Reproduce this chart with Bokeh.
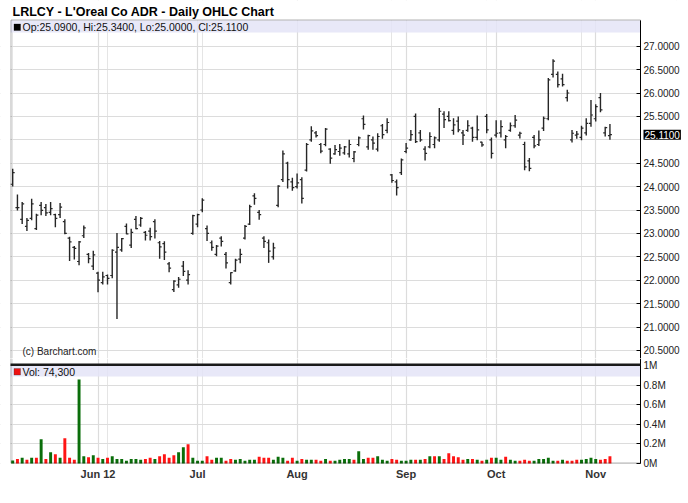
import pandas as pd
from bokeh.plotting import figure
from bokeh.layouts import column
from bokeh.models import (Range1d, FixedTicker, Grid, Label, BoxAnnotation,
                          LinearAxis, NumeralTickFormatter, ColumnDataSource)
from bokeh.embed import file_html
from bokeh.resources import INLINE

# ---------------- data ----------------
title_text = "LRLCY - L'Oreal Co ADR - Daily OHLC Chart"

opens = [24.05, 23.55, 23.30, 23.15, 23.32, 23.10, 23.60, 23.55, 23.45, 23.40,
         23.40, 23.25, 22.90, 22.70, 22.40, 22.95, 22.55, 22.30, 22.15, 21.95,
         22.10, 22.10, 22.60, 22.65, 23.15, 22.75, 23.30, 23.18, 23.02, 23.05,
         23.25, 22.80, 22.78, 22.35, 21.80, 21.90, 22.30, 22.00, 23.00, 23.20,
         23.50, 23.10, 22.80, 22.55, 22.90, 22.55, 21.95, 22.20, 22.45, 22.90,
         23.20, 23.80, 23.45, 22.90, 22.80, 22.50, 23.60, 24.15, 24.50, 24.10,
         24.00, 24.15, 24.35, 25.00, 25.15, 24.90, 24.90, 24.80, 24.70, 24.75,
         24.72, 24.70, 24.60, 24.90, 25.45, 24.85, 25.00, 24.80, 25.30, 25.20,
         24.25, 24.10, 24.30, 24.75, 25.00, 25.50, 25.15, 24.80, 24.85, 24.90,
         25.00, 25.55, 25.50, 25.20, 25.40, 25.15, 25.20, 25.25, 25.05, 24.95,
         25.50, 25.00, 25.10, 25.15, 25.00, 25.20, 25.30, 25.10, 24.90, 24.55,
         25.05, 24.90, 25.25, 25.45, 26.40, 26.40, 26.30, 25.90, 25.00, 25.10,
         25.05, 25.15, 25.35, 25.45, 25.90, 25.15, 25.09]
highs = [24.38, 23.83, 23.67, 23.33, 23.74, 23.42, 23.67, 23.63, 23.67, 23.42,
         23.65, 23.30, 22.93, 22.73, 22.84, 23.17, 22.58, 22.63, 22.18, 22.18,
         22.12, 22.66, 23.01, 22.90, 23.21, 23.10, 23.37, 23.35, 23.05, 23.12,
         23.30, 22.84, 22.83, 22.39, 22.00, 22.07, 22.41, 22.21, 23.40, 23.42,
         23.75, 23.17, 22.85, 22.75, 22.94, 22.60, 22.17, 22.46, 22.67, 23.18,
         23.61, 23.86, 23.50, 22.94, 22.87, 22.80, 24.03, 24.77, 24.53, 24.19,
         24.28, 24.20, 24.93, 25.29, 25.19, 24.93, 25.25, 24.82, 24.89, 24.91,
         24.87, 25.00, 24.76, 25.07, 25.52, 25.11, 25.07, 25.14, 25.34, 25.46,
         24.27, 24.15, 24.60, 24.93, 25.21, 25.56, 25.21, 24.86, 25.16, 25.07,
         25.68, 25.61, 25.61, 25.46, 25.50, 25.21, 25.42, 25.28, 25.52, 24.96,
         25.55, 25.05, 25.42, 25.42, 25.10, 25.37, 25.53, 25.17, 24.96, 24.61,
         25.10, 25.20, 25.50, 26.32, 26.72, 26.46, 26.41, 26.07, 25.21, 25.19,
         25.30, 25.46, 25.85, 25.76, 26.00, 25.28, 25.34]
lows = [24.00, 23.49, 23.20, 23.05, 23.28, 23.07, 23.39, 23.37, 23.39, 23.13,
        23.33, 22.98, 22.41, 22.44, 22.32, 22.90, 22.36, 22.22, 21.74, 21.91,
        21.91, 22.04, 21.17, 22.61, 22.98, 22.69, 23.09, 23.14, 22.85, 22.85,
        22.89, 22.46, 22.43, 22.17, 21.75, 21.84, 22.09, 21.91, 22.97, 23.13,
        23.45, 22.84, 22.63, 22.51, 22.72, 22.25, 21.91, 22.18, 22.36, 22.87,
        23.18, 23.61, 23.29, 22.69, 22.37, 22.44, 23.56, 24.10, 23.96, 23.91,
        23.96, 23.64, 24.32, 24.96, 25.05, 24.71, 24.86, 24.49, 24.68, 24.66,
        24.68, 24.62, 24.52, 24.86, 25.22, 24.79, 24.79, 24.75, 25.02, 25.14,
        24.08, 23.81, 24.25, 24.71, 24.98, 24.93, 24.96, 24.56, 24.82, 24.82,
        24.96, 25.25, 25.39, 25.11, 25.16, 24.89, 25.17, 24.96, 24.99, 24.85,
        25.14, 24.60, 25.05, 25.05, 24.82, 25.17, 25.26, 25.03, 24.35, 24.33,
        24.82, 24.87, 25.19, 25.42, 26.33, 26.12, 26.14, 25.82, 24.94, 25.02,
        24.99, 25.09, 25.28, 25.39, 25.59, 25.07, 25.00]
closes = [24.30, 23.55, 23.63, 23.28, 23.63, 23.39, 23.49, 23.44, 23.53, 23.32,
          23.56, 23.00, 22.82, 22.68, 22.82, 23.12, 22.46, 22.54, 22.00, 22.07,
          22.04, 22.64, 22.70, 22.89, 22.99, 23.02, 23.10, 23.32, 22.96, 22.93,
          23.05, 22.71, 22.60, 22.26, 21.98, 22.02, 22.19, 22.12, 23.38, 23.40,
          23.71, 23.00, 22.70, 22.73, 22.83, 22.37, 22.16, 22.43, 22.55, 23.15,
          23.57, 23.75, 23.40, 22.83, 22.62, 22.69, 24.01, 24.70, 24.15, 23.98,
          24.08, 23.75, 24.90, 25.19, 25.09, 24.76, 25.23, 24.61, 24.79, 24.82,
          24.85, 24.90, 24.74, 25.04, 25.33, 25.09, 24.93, 25.07, 25.11, 25.37,
          24.13, 23.98, 24.57, 24.82, 25.11, 24.96, 25.00, 24.71, 25.07, 25.04,
          25.61, 25.43, 25.41, 25.32, 25.21, 25.10, 25.30, 25.05, 25.21, 24.89,
          25.21, 24.71, 25.14, 25.28, 25.07, 25.30, 25.42, 25.14, 24.42, 24.39,
          24.87, 25.00, 25.46, 26.28, 26.68, 26.18, 26.18, 26.00, 25.14, 25.12,
          25.25, 25.35, 25.53, 25.71, 25.64, 25.26, 25.11]
# volume in millions of shares
volumes = [0.030, 0.047, 0.058, 0.037, 0.058, 0.058, 0.247, 0.047, 0.115, 0.095,
           0.058, 0.258, 0.058, 0.037, 0.858, 0.075, 0.064, 0.085, 0.058, 0.047,
           0.058, 0.075, 0.047, 0.047, 0.027, 0.047, 0.047, 0.037, 0.047, 0.058,
           0.047, 0.075, 0.095, 0.058, 0.085, 0.115, 0.166, 0.197, 0.058, 0.027,
           0.027, 0.075, 0.037, 0.058, 0.058, 0.027, 0.047, 0.037, 0.047, 0.027,
           0.037, 0.037, 0.068, 0.058, 0.058, 0.037, 0.068, 0.058, 0.027, 0.058,
           0.027, 0.047, 0.037, 0.037, 0.037, 0.027, 0.047, 0.027, 0.027, 0.037,
           0.047, 0.047, 0.037, 0.125, 0.047, 0.058, 0.058, 0.075, 0.037, 0.027,
           0.047, 0.037, 0.027, 0.027, 0.037, 0.037, 0.037, 0.047, 0.075, 0.075,
           0.075, 0.047, 0.105, 0.075, 0.064, 0.037, 0.047, 0.047, 0.037, 0.027,
           0.037, 0.058, 0.058, 0.037, 0.068, 0.037, 0.027, 0.027, 0.037, 0.027,
           0.027, 0.047, 0.047, 0.058, 0.027, 0.027, 0.037, 0.027, 0.027, 0.037,
           0.037, 0.047, 0.058, 0.047, 0.037, 0.047, 0.0743]

price_ticks = [20.5, 21.0, 21.5, 22.0, 22.5, 23.0, 23.5, 24.0, 24.5, 25.0, 25.5, 26.0, 26.5, 27.0]
volume_ticks = [0.0, 0.2, 0.4, 0.6, 0.8, 1.0]
volume_tick_labels = ["0M", "0.2M", "0.4M", "0.6M", "0.8M", "1M"]
month_labels = ["Jun 12", "Jul", "Aug", "Sep", "Oct", "Nov"]

# trading days (NYSE calendar, 2012-05-07 .. 2012-11-06)
closed_days = {"2012-05-28", "2012-07-04", "2012-09-03", "2012-10-29", "2012-10-30"}
days = [d for d in pd.bdate_range("2012-05-07", "2012-11-06")
        if d.strftime("%Y-%m-%d") not in closed_days]
idx = list(range(len(days)))
month_starts = [i for i in idx[1:] if days[i].month != days[i - 1].month]

# ---------------- layout geometry (pixels) ----------------
FONT = "Liberation Sans"
W = 686
H1 = 358                  # price canvas height (page y 0..358)
H2 = 130                  # volume canvas height (page y 358..488)
FRAME_L, FRAME_R, FRAME_T = 10, 640, 20
PRICE_BOT = 364
VOL_TOP, VOL_BOT = 365, 463
BAR0_PX, BAR_STEP = 12.2, 4.74           # x pixel of first bar, px per trading day
Y27_PX, PX_PER_USD = 45.7, 46.8          # y pixel of 27.00, px per dollar
PX_PER_MVOL = 98.0                        # px per million shares


def xi(px):
    return (px - BAR0_PX) / BAR_STEP


def yp(py):
    return 27.0 - (py - Y27_PX) / PX_PER_USD


def yv(py):
    return (VOL_BOT - py) / PX_PER_MVOL


GRID = "#dcdcdc"
BAND = "#e4e4f7"

up_color, down_color = "#0a6e0a", "#ff1414"
vol_colors = [up_color if (i == 0 or closes[i] >= closes[i - 1]) else down_color for i in idx]

src = ColumnDataSource(dict(
    x=idx, o=opens, h=highs, l=lows, c=closes, v=volumes, col=vol_colors,
    xl=[i - 0.42 for i in idx], xr=[i + 0.42 for i in idx],
))

xr_shared = Range1d(xi(0), xi(W))


def style_value_axis(ax):
    ax.axis_line_color = "black"
    ax.major_tick_in = 4
    ax.major_tick_out = 0
    ax.minor_tick_line_color = None
    ax.major_tick_line_color = "black"
    ax.major_label_text_font = FONT
    ax.major_label_text_font_size = "10px"
    ax.major_label_text_color = "#222222"
    ax.major_label_standoff = 3


def mask(p, **kw):
    p.add_layout(BoxAnnotation(fill_color="white", fill_alpha=1, line_alpha=0,
                               level="underlay", **kw))


# ---------------- price panel ----------------
p1 = figure(width=W, height=H1, output_backend="svg", toolbar_location=None,
            x_range=xr_shared, y_range=Range1d(yp(H1), yp(0)),
            x_axis_location=None, y_axis_location=None,
            min_border_left=0, min_border_right=0, min_border_top=0, min_border_bottom=0)
p1.outline_line_color = None
p1.background_fill_color = "white"
p1.border_fill_color = "white"

p1.add_layout(Grid(dimension=0, ticker=FixedTicker(ticks=month_starts),
                   grid_line_color=GRID, grid_line_width=1.2))
p1.add_layout(Grid(dimension=1, ticker=FixedTicker(ticks=price_ticks),
                   grid_line_color=GRID, grid_line_width=1.2))
mask(p1, bottom=yp(FRAME_T))
mask(p1, left=xi(FRAME_R))
mask(p1, right=xi(FRAME_L))
p1.add_layout(BoxAnnotation(left=xi(FRAME_L), right=xi(FRAME_R), top=yp(FRAME_T),
                            bottom=yp(FRAME_T + 12), fill_color=BAND,
                            fill_alpha=0.85, line_alpha=0, level="underlay"))

axis_price_ticks = [t for t in price_ticks if abs(t - closes[-1]) > 0.2]
ax1 = LinearAxis(ticker=FixedTicker(ticks=axis_price_ticks),
                 formatter=NumeralTickFormatter(format="0.0000"),
                 fixed_location=xi(FRAME_R), bounds=(yp(H1 + 2), yp(FRAME_T)))
style_value_axis(ax1)
p1.add_layout(ax1, "right")

bar_col = "#262626"
p1.segment(x0="x", y0="l", x1="x", y1="h", source=src, line_color=bar_col, line_width=1.4)
p1.segment(x0="xl", y0="o", x1="x", y1="o", source=src, line_color=bar_col, line_width=1.2)
p1.segment(x0="x", y0="c", x1="xr", y1="c", source=src, line_color=bar_col, line_width=1.2)

# chart box (bottom edge lies below this canvas)
p1.add_layout(BoxAnnotation(left=xi(FRAME_L + 0.5), right=xi(FRAME_R), top=yp(FRAME_T - 0.5),
                            bottom=yp(H1 + 10), fill_alpha=0, line_color="black",
                            line_width=1))

band_mid = yp(FRAME_T + 6.5)
legend_txt = "Op:%.4f, Hi:%.4f, Lo:%.4f, Cl:%.4f" % (opens[-1], highs[-1], lows[-1], closes[-1])
p1.add_layout(BoxAnnotation(left=xi(13.5), right=xi(20), bottom=yp(FRAME_T + 10),
                            top=yp(FRAME_T + 3.5), fill_color="black", fill_alpha=1,
                            line_color="black"))
p1.add_layout(Label(x=xi(22), y=band_mid, text=legend_txt,
                    text_font=FONT, text_font_size="10.5px", text_color="#111111",
                    text_baseline="middle"))
p1.add_layout(Label(x=xi(12), y=yp(4.5), text=title_text,
                    text_font=FONT, text_font_size="12.5px", text_font_style="bold",
                    text_color="black", text_baseline="top"))
p1.add_layout(Label(x=xi(22), y=yp(351), text="(c) Barchart.com",
                    text_font=FONT, text_font_size="10px", text_color="#222222",
                    text_baseline="middle"))
p1.add_layout(Label(x=xi(643), y=closes[-1], text="%.4f" % closes[-1],
                    text_font=FONT, text_font_size="10px", text_color="white",
                    text_baseline="middle", background_fill_color="black",
                    background_fill_alpha=1, padding=1))

# ---------------- volume panel ----------------
p2 = figure(width=W, height=H2, output_backend="svg", toolbar_location=None,
            x_range=xr_shared, y_range=Range1d(yv(H1 + H2), yv(H1)),
            x_axis_location=None, y_axis_location=None,
            min_border_left=0, min_border_right=0, min_border_top=0, min_border_bottom=0)
p2.outline_line_color = None
p2.background_fill_color = "white"
p2.border_fill_color = "white"

p2.add_layout(Grid(dimension=0, ticker=FixedTicker(ticks=month_starts),
                   grid_line_color=GRID, grid_line_width=1.2))
p2.add_layout(Grid(dimension=1, ticker=FixedTicker(ticks=volume_ticks),
                   grid_line_color=GRID, grid_line_width=1.2))
mask(p2, top=yv(VOL_BOT))
mask(p2, left=xi(FRAME_R))
mask(p2, right=xi(FRAME_L))
p2.add_layout(BoxAnnotation(left=xi(FRAME_L), right=xi(FRAME_R), top=yv(VOL_TOP),
                            bottom=yv(VOL_TOP + 11), fill_color=BAND,
                            fill_alpha=0.85, line_alpha=0, level="underlay"))

ax2 = LinearAxis(ticker=FixedTicker(ticks=volume_ticks),
                 major_label_overrides={t: s for t, s in zip(volume_ticks, volume_tick_labels)},
                 fixed_location=xi(FRAME_R), bounds=(0, yv(H1)))
style_value_axis(ax2)
p2.add_layout(ax2, "right")

ax3 = LinearAxis(ticker=FixedTicker(ticks=month_starts),
                 major_label_overrides={i: s for i, s in zip(month_starts, month_labels)},
                 fixed_location=0, bounds=(xi(FRAME_L), xi(FRAME_R)))
ax3.axis_line_color = None
ax3.major_tick_in = 0
ax3.major_tick_out = 0
ax3.minor_tick_line_color = None
ax3.major_label_text_font = FONT
ax3.major_label_text_font_size = "11px"
ax3.major_label_text_font_style = "bold"
ax3.major_label_text_color = "#333333"
ax3.major_label_standoff = 4
p2.add_layout(ax3, "below")

p2.vbar(x="x", top="v", bottom=0, width=0.62, source=src, fill_color="col", line_color=None)

# chart box and the heavy divider between the two panes
p2.add_layout(BoxAnnotation(left=xi(FRAME_L + 0.5), right=xi(FRAME_R), top=yv(H1 - 10),
                            bottom=yv(VOL_BOT - 0.5), fill_alpha=0, line_color="black",
                            line_width=1))
p2.add_layout(BoxAnnotation(left=xi(FRAME_L), right=xi(FRAME_R), top=yv(PRICE_BOT - 1),
                            bottom=yv(VOL_TOP + 0.5), fill_color="#1a1a1a", fill_alpha=1,
                            line_alpha=0))

vmid = yv(VOL_TOP + 6)
p2.add_layout(BoxAnnotation(left=xi(13.5), right=xi(20), bottom=yv(VOL_TOP + 9.5),
                            top=yv(VOL_TOP + 3), fill_color="#ee1111", fill_alpha=1,
                            line_color="#333333"))
p2.add_layout(Label(x=xi(22), y=vmid, text="Vol: {:,}".format(int(round(volumes[-1] * 1e6))),
                    text_font=FONT, text_font_size="10.5px", text_color="#111111",
                    text_baseline="middle"))

layout = column(p1, p2, spacing=0)
open("out.html", "w").write(file_html(layout, INLINE))
